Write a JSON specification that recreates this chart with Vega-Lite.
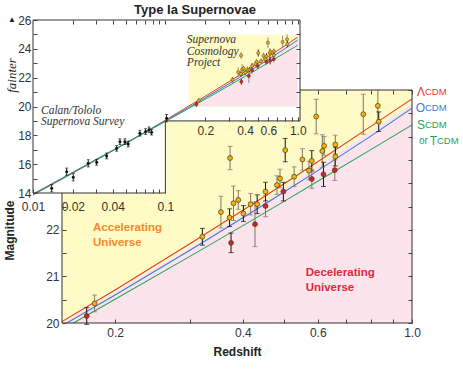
{
  "$schema": "https://vega.github.io/schema/vega-lite/v6.json",
  "width": 350,
  "height": 233,
  "autosize": {"type": "none"},
  "padding": {"left": 62, "top": 90, "right": 51, "bottom": 50},
  "title": {"text": "Type Ia Supernovae", "fontSize": 13, "font": "Liberation Sans", "fontWeight": "bold", "color": "#222", "anchor": "middle", "dx": -42, "offset": -3},
  "config": {
    "view": {"stroke": null, "fill": "#fde4ec"},
    "font": "Liberation Sans",
    "axis": {"domain": false, "grid": false, "labelFont": "Liberation Sans", "labelFontSize": 12, "labelColor": "#333", "tickColor": "#444", "tickSize": -4, "labelPadding": 8, "titleFont": "Liberation Sans", "labelOverlap": false, "labelFlush": false, "labelBound": false}
  },
  "datasets": {
    "models": [
      {"model": "ΛCDM", "z": 0.01, "m": 13.86}, {"model": "ΛCDM", "z": 0.02, "m": 15.38}, {"model": "ΛCDM", "z": 0.05, "m": 17.42}, {"model": "ΛCDM", "z": 0.1, "m": 19.05}, {"model": "ΛCDM", "z": 0.15, "m": 20.03}, {"model": "ΛCDM", "z": 0.2, "m": 20.71}, {"model": "ΛCDM", "z": 0.3, "m": 21.7}, {"model": "ΛCDM", "z": 0.4, "m": 22.42}, {"model": "ΛCDM", "z": 0.5, "m": 22.99}, {"model": "ΛCDM", "z": 0.6, "m": 23.46}, {"model": "ΛCDM", "z": 0.8, "m": 24.22}, {"model": "ΛCDM", "z": 1.0, "m": 24.81},
      {"model": "OCDM", "z": 0.01, "m": 13.93}, {"model": "OCDM", "z": 0.02, "m": 15.44}, {"model": "OCDM", "z": 0.05, "m": 17.46}, {"model": "OCDM", "z": 0.1, "m": 19.01}, {"model": "OCDM", "z": 0.15, "m": 19.94}, {"model": "OCDM", "z": 0.2, "m": 20.6}, {"model": "OCDM", "z": 0.3, "m": 21.56}, {"model": "OCDM", "z": 0.4, "m": 22.26}, {"model": "OCDM", "z": 0.5, "m": 22.81}, {"model": "OCDM", "z": 0.6, "m": 23.27}, {"model": "OCDM", "z": 0.8, "m": 24.01}, {"model": "OCDM", "z": 1.0, "m": 24.61},
      {"model": "SCDM", "z": 0.01, "m": 13.91}, {"model": "SCDM", "z": 0.02, "m": 15.41}, {"model": "SCDM", "z": 0.05, "m": 17.43}, {"model": "SCDM", "z": 0.1, "m": 18.96}, {"model": "SCDM", "z": 0.15, "m": 19.86}, {"model": "SCDM", "z": 0.2, "m": 20.51}, {"model": "SCDM", "z": 0.3, "m": 21.43}, {"model": "SCDM", "z": 0.4, "m": 22.09}, {"model": "SCDM", "z": 0.5, "m": 22.61}, {"model": "SCDM", "z": 0.6, "m": 23.04}, {"model": "SCDM", "z": 0.8, "m": 23.72}, {"model": "SCDM", "z": 1.0, "m": 24.25}
    ],
    "boundary": [
      {"z": 0.15, "m": 19.99}, {"z": 0.2, "m": 20.66}, {"z": 0.3, "m": 21.63}, {"z": 0.4, "m": 22.34}, {"z": 0.5, "m": 22.9}, {"z": 0.6, "m": 23.37}, {"z": 0.8, "m": 24.12}, {"z": 1.0, "m": 24.71}
    ],
    "sn": [
      {"z": 0.1715, "m": 20.15, "lo": 19.97, "hi": 20.33, "team": "HZT", "fit": "primary"},
      {"z": 0.179, "m": 20.42, "lo": 20.24, "hi": 20.6, "team": "SCP", "fit": "secondary"},
      {"z": 0.321, "m": 21.85, "lo": 21.67, "hi": 22.03, "team": "SCP", "fit": "primary"},
      {"z": 0.375, "m": 21.72, "lo": 21.51, "hi": 21.93, "team": "HZT", "fit": "primary"},
      {"z": 0.355, "m": 22.38, "lo": 22.04, "hi": 22.72, "team": "SCP", "fit": "secondary"},
      {"z": 0.372, "m": 22.26, "lo": 22.07, "hi": 22.45, "team": "SCP", "fit": "primary"},
      {"z": 0.38, "m": 22.57, "lo": 22.2, "hi": 22.94, "team": "SCP", "fit": "secondary"},
      {"z": 0.39, "m": 22.64, "lo": 22.44, "hi": 22.84, "team": "SCP", "fit": "secondary"},
      {"z": 0.401, "m": 22.35, "lo": 22.18, "hi": 22.52, "team": "SCP", "fit": "primary"},
      {"z": 0.417, "m": 22.55, "lo": 22.32, "hi": 22.78, "team": "SCP", "fit": "secondary"},
      {"z": 0.432, "m": 22.55, "lo": 22.35, "hi": 22.75, "team": "SCP", "fit": "primary"},
      {"z": 0.427, "m": 22.12, "lo": 21.64, "hi": 22.6, "team": "HZT", "fit": "secondary"},
      {"z": 0.452, "m": 22.51, "lo": 22.28, "hi": 22.74, "team": "HZT", "fit": "secondary"},
      {"z": 0.452, "m": 22.82, "lo": 22.62, "hi": 23.02, "team": "SCP", "fit": "primary"},
      {"z": 0.498, "m": 22.82, "lo": 22.62, "hi": 23.02, "team": "HZT", "fit": "primary"},
      {"z": 0.481, "m": 22.96, "lo": 22.76, "hi": 23.16, "team": "SCP", "fit": "secondary"},
      {"z": 0.503, "m": 23.71, "lo": 23.46, "hi": 23.96, "team": "SCP", "fit": "primary"},
      {"z": 0.489, "m": 23.1, "lo": 22.9, "hi": 23.3, "team": "SCP", "fit": "secondary"},
      {"z": 0.528, "m": 23.14, "lo": 22.93, "hi": 23.35, "team": "SCP", "fit": "secondary"},
      {"z": 0.552, "m": 23.51, "lo": 23.28, "hi": 23.74, "team": "SCP", "fit": "secondary"},
      {"z": 0.572, "m": 23.27, "lo": 23.07, "hi": 23.47, "team": "SCP", "fit": "secondary"},
      {"z": 0.581, "m": 23.48, "lo": 23.26, "hi": 23.7, "team": "SCP", "fit": "primary"},
      {"z": 0.581, "m": 23.09, "lo": 22.89, "hi": 23.29, "team": "HZT", "fit": "secondary"},
      {"z": 0.595, "m": 24.43, "lo": 24.06, "hi": 24.8, "team": "SCP", "fit": "secondary"},
      {"z": 0.615, "m": 23.69, "lo": 23.34, "hi": 24.04, "team": "SCP", "fit": "secondary"},
      {"z": 0.621, "m": 23.8, "lo": 23.6, "hi": 24.0, "team": "SCP", "fit": "secondary"},
      {"z": 0.619, "m": 23.19, "lo": 22.93, "hi": 23.45, "team": "HZT", "fit": "primary"},
      {"z": 0.66, "m": 23.83, "lo": 23.63, "hi": 24.03, "team": "SCP", "fit": "secondary"},
      {"z": 0.66, "m": 23.57, "lo": 23.37, "hi": 23.77, "team": "SCP", "fit": "primary"},
      {"z": 0.658, "m": 23.28, "lo": 23.06, "hi": 23.5, "team": "HZT", "fit": "secondary"},
      {"z": 0.768, "m": 24.48, "lo": 24.05, "hi": 24.91, "team": "SCP", "fit": "secondary"},
      {"z": 0.831, "m": 24.66, "lo": 24.31, "hi": 25.0, "team": "SCP", "fit": "secondary"},
      {"z": 0.835, "m": 24.32, "lo": 24.11, "hi": 24.53, "team": "SCP", "fit": "primary"},
      {"z": 0.373, "m": 23.54, "lo": 23.29, "hi": 23.79, "team": "SCP", "fit": "secondary"}
    ],
    "ct": [
      {"z": 0.01384, "m": 14.33, "lo": 14.08, "hi": 14.58},
      {"z": 0.01796, "m": 15.48, "lo": 15.23, "hi": 15.73},
      {"z": 0.02015, "m": 15.09, "lo": 14.84, "hi": 15.34},
      {"z": 0.02615, "m": 16.06, "lo": 15.81, "hi": 16.31},
      {"z": 0.03026, "m": 16.13, "lo": 15.93, "hi": 16.33},
      {"z": 0.036, "m": 16.57, "lo": 16.37, "hi": 16.77},
      {"z": 0.04282, "m": 17.1, "lo": 16.9, "hi": 17.3},
      {"z": 0.04535, "m": 17.56, "lo": 17.36, "hi": 17.76},
      {"z": 0.04947, "m": 17.56, "lo": 17.36, "hi": 17.76},
      {"z": 0.05239, "m": 17.4, "lo": 17.2, "hi": 17.6},
      {"z": 0.06421, "m": 18.15, "lo": 17.95, "hi": 18.35},
      {"z": 0.0709, "m": 18.26, "lo": 18.06, "hi": 18.46},
      {"z": 0.07529, "m": 18.38, "lo": 18.18, "hi": 18.58},
      {"z": 0.07866, "m": 18.22, "lo": 18.02, "hi": 18.42},
      {"z": 0.1021, "m": 19.19, "lo": 18.94, "hi": 19.44}
    ],
    "mainframe": [
      {"x1": 0.15, "x2": 0.15, "y1": 20, "y2": 25},
      {"x1": 1.0, "x2": 1.0, "y1": 20, "y2": 25},
      {"x1": 0.15, "x2": 1.0, "y1": 20, "y2": 20},
      {"x1": 0.15, "x2": 1.0, "y1": 25, "y2": 25}
    ],
    "insetbg": [
      {"x1": 0.01, "x2": 1.04, "y1": 19, "y2": 26},
      {"x1": 0.01, "x2": 0.1, "y1": 14, "y2": 19}
    ],
    "scpbox": [{"x1": 0.15, "x2": 1.0, "y1": 20, "y2": 25}],
    "insetframe": [
      {"i": 0, "z": 0.01, "m": 14}, {"i": 1, "z": 0.01, "m": 26}, {"i": 2, "z": 1.04, "m": 26}, {"i": 3, "z": 1.04, "m": 19}, {"i": 4, "z": 0.1, "m": 19}, {"i": 5, "z": 0.1, "m": 14}, {"i": 6, "z": 0.01, "m": 14}
    ],
    "notes": [
      {"text": "Accelerating", "z": 0.1775, "m": 22.04, "kind": "acc"},
      {"text": "Universe", "z": 0.1775, "m": 21.72, "kind": "acc"},
      {"text": "Decelerating", "z": 0.562, "m": 21.07, "kind": "dec"},
      {"text": "Universe", "z": 0.562, "m": 20.75, "kind": "dec"}
    ],
    "insetnotes": [
      {"text": "Supernova", "z": 0.1453, "m": 24.63},
      {"text": "Cosmology", "z": 0.1453, "m": 23.79},
      {"text": "Project", "z": 0.1453, "m": 23.03},
      {"text": "Calan/Tololo", "z": 0.01149, "m": 19.72},
      {"text": "Supernova Survey", "z": 0.01149, "m": 18.9}
    ],
    "leg": [
      {"model": "ΛCDM", "lead": "Λ", "z": 1.0, "m": 24.96},
      {"model": "OCDM", "lead": "O", "z": 1.0, "m": 24.61},
      {"model": "SCDM", "lead": "S", "z": 1.0, "m": 24.25}
    ],
    "leg2": [{"model": "SCDM", "lead": "T", "z": 1.0, "m": 23.91}],
    "arrow": [{"z": 0.01, "m": 26}]
  },
  "layer": [
    {
      "layer": [
        {
          "data": {"name": "boundary"},
          "mark": {"type": "area", "clip": true, "color": "#fffbc6"},
          "encoding": {
            "x": {"field": "z", "type": "quantitative", "scale": {"type": "log", "domain": [0.15, 1.0], "nice": false, "zero": false}, "axis": null},
            "y": {"field": "m", "type": "quantitative", "scale": {"domain": [20, 25], "nice": false, "zero": false}, "axis": null},
            "y2": {"datum": 25}
          }
        },
        {
          "data": {"name": "models"},
          "mark": {"type": "line", "clip": true, "strokeWidth": 1.1},
          "encoding": {
            "x": {"field": "z", "type": "quantitative", "scale": {"type": "log", "domain": [0.15, 1.0], "nice": false, "zero": false},
              "axis": {"orient": "bottom", "zindex": 1, "values": [0.2, 0.3, 0.4, 0.5, 0.6, 0.7, 0.8, 0.9, 1.0], "labelExpr": "indexof([0.2,0.4,0.6,1],datum.value)>=0 ? format(datum.value,'.1f') : ''", "title": "Redshift", "titleFontSize": 12, "titleFontWeight": "bold", "titleColor": "#222", "titleY": 28, "titleBaseline": "middle"}},
            "y": {"field": "m", "type": "quantitative", "scale": {"domain": [20, 25], "nice": false, "zero": false},
              "axis": {"orient": "left", "zindex": 1, "values": [20, 20.5, 21, 21.5, 22, 22.5], "labelExpr": "datum.value % 1 == 0 ? datum.label : ''", "labelPadding": 7, "title": "Magnitude", "titleFontSize": 12, "titleFontWeight": "bold", "titleColor": "#222", "titleX": -53, "titleY": 140, "titleBaseline": "middle", "titleAlign": "center", "titleAngle": -90}},
            "color": {"field": "model", "type": "nominal", "scale": {"domain": ["ΛCDM", "OCDM", "SCDM"], "range": ["#e8382e", "#3a7bd5", "#27a35a"]}, "legend": null}
          }
        },
        {
          "data": {"name": "mainframe"},
          "mark": {"type": "rule", "color": "#333", "strokeWidth": 1},
          "encoding": {
            "x": {"field": "x1", "type": "quantitative", "scale": {"type": "log", "domain": [0.15, 1.0], "nice": false, "zero": false},
              "axis": {"orient": "top", "zindex": 1, "values": [0.6, 0.7, 0.8, 0.9, 1.0], "labels": false, "title": null}},
            "x2": {"field": "x2"},
            "y": {"field": "y1", "type": "quantitative", "scale": {"domain": [20, 25], "nice": false, "zero": false},
              "axis": {"orient": "right", "zindex": 1, "values": [20, 20.5, 21, 21.5, 22, 22.5, 23, 23.5, 24, 24.5, 25], "labels": false, "title": null}},
            "y2": {"field": "y2"}
          }
        },
        {
          "data": {"name": "sn"},
          "mark": {"type": "rule", "strokeWidth": 1},
          "encoding": {
            "x": {"field": "z", "type": "quantitative", "scale": {"type": "log", "domain": [0.15, 1.0], "nice": false, "zero": false}, "axis": null},
            "y": {"field": "lo", "type": "quantitative", "scale": {"domain": [20, 25], "nice": false, "zero": false}, "axis": null},
            "y2": {"field": "hi"},
            "stroke": {"field": "fit", "type": "nominal", "scale": {"domain": ["primary", "secondary"], "range": ["#111", "#7d7568"]}, "legend": null}
          }
        },
        {
          "data": {"name": "sn"},
          "transform": [{"filter": "datum.fit == 'primary'"}, {"fold": ["lo", "hi"], "as": ["end", "v"]}],
          "mark": {"type": "tick", "orient": "horizontal", "size": 5, "thickness": 1, "color": "#111"},
          "encoding": {
            "x": {"field": "z", "type": "quantitative", "scale": {"type": "log", "domain": [0.15, 1.0], "nice": false, "zero": false}, "axis": null},
            "y": {"field": "v", "type": "quantitative", "scale": {"domain": [20, 25], "nice": false, "zero": false}, "axis": null}
          }
        },
        {
          "data": {"name": "sn"},
          "transform": [{"filter": "datum.fit == 'secondary'"}, {"fold": ["lo", "hi"], "as": ["end", "v"]}],
          "mark": {"type": "tick", "orient": "horizontal", "size": 5, "thickness": 1, "color": "#7d7568"},
          "encoding": {
            "x": {"field": "z", "type": "quantitative", "scale": {"type": "log", "domain": [0.15, 1.0], "nice": false, "zero": false}, "axis": null},
            "y": {"field": "v", "type": "quantitative", "scale": {"domain": [20, 25], "nice": false, "zero": false}, "axis": null}
          }
        },
        {
          "data": {"name": "sn"},
          "mark": {"type": "circle", "size": 24, "opacity": 1, "stroke": "#4a3a10", "strokeWidth": 0.7},
          "encoding": {
            "x": {"field": "z", "type": "quantitative", "scale": {"type": "log", "domain": [0.15, 1.0], "nice": false, "zero": false}, "axis": null},
            "y": {"field": "m", "type": "quantitative", "scale": {"domain": [20, 25], "nice": false, "zero": false}, "axis": null},
            "fill": {"field": "team", "type": "nominal", "scale": {"domain": ["SCP", "HZT"], "range": ["#f2b20f", "#d2202e"]}, "legend": null}
          }
        },
        {
          "data": {"name": "notes"},
          "transform": [{"filter": "datum.kind == 'acc'"}],
          "mark": {"type": "text", "align": "left", "baseline": "middle", "fontSize": 11.5, "fontWeight": "bold", "color": "#f58a2a"},
          "encoding": {
            "x": {"field": "z", "type": "quantitative", "scale": {"type": "log", "domain": [0.15, 1.0], "nice": false, "zero": false}, "axis": null},
            "y": {"field": "m", "type": "quantitative", "scale": {"domain": [20, 25], "nice": false, "zero": false}, "axis": null},
            "text": {"field": "text"}
          }
        },
        {
          "data": {"name": "notes"},
          "transform": [{"filter": "datum.kind == 'dec'"}],
          "mark": {"type": "text", "align": "left", "baseline": "middle", "fontSize": 11.5, "fontWeight": "bold", "color": "#e0283c"},
          "encoding": {
            "x": {"field": "z", "type": "quantitative", "scale": {"type": "log", "domain": [0.15, 1.0], "nice": false, "zero": false}, "axis": null},
            "y": {"field": "m", "type": "quantitative", "scale": {"domain": [20, 25], "nice": false, "zero": false}, "axis": null},
            "text": {"field": "text"}
          }
        },
        {
          "data": {"name": "leg"},
          "mark": {"type": "text", "align": "right", "baseline": "middle", "fontSize": 12, "dx": 13},
          "encoding": {
            "x": {"field": "z", "type": "quantitative", "scale": {"type": "log", "domain": [0.15, 1.0], "nice": false, "zero": false}, "axis": null},
            "y": {"field": "m", "type": "quantitative", "scale": {"domain": [20, 25], "nice": false, "zero": false}, "axis": null},
            "text": {"field": "lead"},
            "color": {"field": "model", "type": "nominal", "scale": {"domain": ["ΛCDM", "OCDM", "SCDM"], "range": ["#e8382e", "#3a7bd5", "#27a35a"]}, "legend": null}
          }
        },
        {
          "data": {"name": "leg"},
          "mark": {"type": "text", "align": "left", "baseline": "middle", "fontSize": 9.5, "dx": 13, "text": "CDM"},
          "encoding": {
            "x": {"field": "z", "type": "quantitative", "scale": {"type": "log", "domain": [0.15, 1.0], "nice": false, "zero": false}, "axis": null},
            "y": {"field": "m", "type": "quantitative", "scale": {"domain": [20, 25], "nice": false, "zero": false}, "axis": null},
            "color": {"field": "model", "type": "nominal", "scale": {"domain": ["ΛCDM", "OCDM", "SCDM"], "range": ["#e8382e", "#3a7bd5", "#27a35a"]}, "legend": null}
          }
        },
        {
          "data": {"name": "leg2"},
          "mark": {"type": "text", "align": "left", "baseline": "middle", "fontSize": 10, "dx": 7, "text": "or"},
          "encoding": {
            "x": {"field": "z", "type": "quantitative", "scale": {"type": "log", "domain": [0.15, 1.0], "nice": false, "zero": false}, "axis": null},
            "y": {"field": "m", "type": "quantitative", "scale": {"domain": [20, 25], "nice": false, "zero": false}, "axis": null},
            "color": {"field": "model", "type": "nominal", "scale": {"domain": ["ΛCDM", "OCDM", "SCDM"], "range": ["#e8382e", "#3a7bd5", "#27a35a"]}, "legend": null}
          }
        },
        {
          "data": {"name": "leg2"},
          "mark": {"type": "text", "align": "right", "baseline": "middle", "fontSize": 12, "dx": 25},
          "encoding": {
            "x": {"field": "z", "type": "quantitative", "scale": {"type": "log", "domain": [0.15, 1.0], "nice": false, "zero": false}, "axis": null},
            "y": {"field": "m", "type": "quantitative", "scale": {"domain": [20, 25], "nice": false, "zero": false}, "axis": null},
            "text": {"field": "lead"},
            "color": {"field": "model", "type": "nominal", "scale": {"domain": ["ΛCDM", "OCDM", "SCDM"], "range": ["#e8382e", "#3a7bd5", "#27a35a"]}, "legend": null}
          }
        },
        {
          "data": {"name": "leg2"},
          "mark": {"type": "text", "align": "left", "baseline": "middle", "fontSize": 9.5, "dx": 25, "text": "CDM"},
          "encoding": {
            "x": {"field": "z", "type": "quantitative", "scale": {"type": "log", "domain": [0.15, 1.0], "nice": false, "zero": false}, "axis": null},
            "y": {"field": "m", "type": "quantitative", "scale": {"domain": [20, 25], "nice": false, "zero": false}, "axis": null},
            "color": {"field": "model", "type": "nominal", "scale": {"domain": ["ΛCDM", "OCDM", "SCDM"], "range": ["#e8382e", "#3a7bd5", "#27a35a"]}, "legend": null}
          }
        }
      ],
      "resolve": {"axis": {"x": "independent", "y": "independent"}}
    },
    {
      "layer": [
        {
          "data": {"name": "insetbg"},
          "mark": {"type": "rect", "color": "white"},
          "encoding": {
            "x": {"field": "x1", "type": "quantitative", "scale": {"type": "log", "domain": [0.01, 1.04], "range": [-29, 238], "nice": false, "zero": false},
              "axis": {"orient": "bottom", "zindex": 2, "offset": -130, "labelPadding": 12, "values": [0.01, 0.02, 0.03, 0.04, 0.05, 0.06, 0.07, 0.08, 0.09, 0.1], "labelExpr": "indexof([0.01,0.02,0.04,0.1],datum.value)>=0 ? toString(datum.value) : ''", "title": null}},
            "x2": {"field": "x2"},
            "y": {"field": "y1", "type": "quantitative", "scale": {"domain": [14, 26], "range": [103, -70], "nice": false, "zero": false},
              "axis": {"orient": "left", "zindex": 2, "offset": 29, "values": [14, 15, 16, 17, 18, 19, 20, 21, 22, 23, 24, 25, 26], "labelExpr": "datum.value % 2 == 0 ? datum.label : ''", "labelPadding": 6, "title": "fainter", "titleFont": "Liberation Serif", "titleFontStyle": "italic", "titleFontWeight": "normal", "titleFontSize": 13, "titleColor": "#222", "titleX": -22, "titleY": -15, "titleBaseline": "middle", "titleAlign": "center", "titleAngle": -90}},
            "y2": {"field": "y2"}
          }
        },
        {
          "data": {"name": "scpbox"},
          "mark": {"type": "rect", "color": "#fffbc6"},
          "encoding": {
            "x": {"field": "x1", "type": "quantitative", "scale": {"type": "log", "domain": [0.01, 1.04], "range": [-29, 238], "nice": false, "zero": false},
              "axis": {"orient": "top", "zindex": 2, "offset": 70, "values": [0.02, 0.03, 0.04, 0.05, 0.06, 0.07, 0.08, 0.09, 0.1, 0.2, 0.3, 0.4, 0.5, 0.6, 0.7, 0.8, 0.9, 1.0], "labels": false, "title": null}},
            "x2": {"field": "x2"},
            "y": {"field": "y1", "type": "quantitative", "scale": {"domain": [14, 26], "range": [103, -70], "nice": false, "zero": false}, "axis": null},
            "y2": {"field": "y2"}
          }
        },
        {
          "data": {"name": "boundary"},
          "mark": {"type": "area", "color": "#fde4ec"},
          "encoding": {
            "x": {"field": "z", "type": "quantitative", "scale": {"type": "log", "domain": [0.01, 1.04], "range": [-29, 238], "nice": false, "zero": false}, "axis": null},
            "y": {"field": "m", "type": "quantitative", "scale": {"domain": [14, 26], "range": [103, -70], "nice": false, "zero": false}, "axis": null},
            "y2": {"datum": 20}
          }
        },
        {
          "data": {"name": "models"},
          "mark": {"type": "line", "strokeWidth": 1},
          "encoding": {
            "x": {"field": "z", "type": "quantitative", "scale": {"type": "log", "domain": [0.01, 1.04], "range": [-29, 238], "nice": false, "zero": false}, "axis": null},
            "y": {"field": "m", "type": "quantitative", "scale": {"domain": [14, 26], "range": [103, -70], "nice": false, "zero": false}, "axis": null},
            "color": {"field": "model", "type": "nominal", "scale": {"domain": ["ΛCDM", "OCDM", "SCDM"], "range": ["#e8382e", "#3a7bd5", "#27a35a"]}, "legend": null}
          }
        },
        {
          "data": {"name": "ct"},
          "mark": {"type": "rule", "color": "#111", "strokeWidth": 0.9},
          "encoding": {
            "x": {"field": "z", "type": "quantitative", "scale": {"type": "log", "domain": [0.01, 1.04], "range": [-29, 238], "nice": false, "zero": false}, "axis": null},
            "y": {"field": "lo", "type": "quantitative", "scale": {"domain": [14, 26], "range": [103, -70], "nice": false, "zero": false}, "axis": null},
            "y2": {"field": "hi"}
          }
        },
        {
          "data": {"name": "ct"},
          "transform": [{"fold": ["lo", "hi"], "as": ["end", "v"]}],
          "mark": {"type": "tick", "orient": "horizontal", "size": 3, "thickness": 0.9, "color": "#111"},
          "encoding": {
            "x": {"field": "z", "type": "quantitative", "scale": {"type": "log", "domain": [0.01, 1.04], "range": [-29, 238], "nice": false, "zero": false}, "axis": null},
            "y": {"field": "v", "type": "quantitative", "scale": {"domain": [14, 26], "range": [103, -70], "nice": false, "zero": false}, "axis": null}
          }
        },
        {
          "data": {"name": "ct"},
          "mark": {"type": "circle", "size": 9, "color": "#111", "opacity": 1},
          "encoding": {
            "x": {"field": "z", "type": "quantitative", "scale": {"type": "log", "domain": [0.01, 1.04], "range": [-29, 238], "nice": false, "zero": false}, "axis": null},
            "y": {"field": "m", "type": "quantitative", "scale": {"domain": [14, 26], "range": [103, -70], "nice": false, "zero": false}, "axis": null}
          }
        },
        {
          "data": {"name": "sn"},
          "mark": {"type": "rule", "strokeWidth": 0.8},
          "encoding": {
            "x": {"field": "z", "type": "quantitative", "scale": {"type": "log", "domain": [0.01, 1.04], "range": [-29, 238], "nice": false, "zero": false}, "axis": null},
            "y": {"field": "lo", "type": "quantitative", "scale": {"domain": [14, 26], "range": [103, -70], "nice": false, "zero": false}, "axis": null},
            "y2": {"field": "hi"},
            "stroke": {"field": "fit", "type": "nominal", "scale": {"domain": ["primary", "secondary"], "range": ["#111", "#7d7568"]}, "legend": null}
          }
        },
        {
          "data": {"name": "sn"},
          "mark": {"type": "circle", "size": 10, "opacity": 1, "stroke": "#4a3a10", "strokeWidth": 0.5},
          "encoding": {
            "x": {"field": "z", "type": "quantitative", "scale": {"type": "log", "domain": [0.01, 1.04], "range": [-29, 238], "nice": false, "zero": false}, "axis": null},
            "y": {"field": "m", "type": "quantitative", "scale": {"domain": [14, 26], "range": [103, -70], "nice": false, "zero": false}, "axis": null},
            "fill": {"field": "team", "type": "nominal", "scale": {"domain": ["SCP", "HZT"], "range": ["#f2b20f", "#d2202e"]}, "legend": null}
          }
        },
        {
          "data": {"name": "insetframe"},
          "mark": {"type": "line", "color": "#333", "strokeWidth": 1},
          "encoding": {
            "x": {"field": "z", "type": "quantitative", "scale": {"type": "log", "domain": [0.01, 1.04], "range": [-29, 238], "nice": false, "zero": false},
              "axis": {"orient": "bottom", "zindex": 2, "offset": -202, "values": [0.2, 0.3, 0.4, 0.5, 0.6, 0.7, 0.8, 0.9, 1.0], "labelExpr": "indexof([0.2,0.4,0.6,1],datum.value)>=0 ? format(datum.value,'.1f') : ''", "title": null}},
            "y": {"field": "m", "type": "quantitative", "scale": {"domain": [14, 26], "range": [103, -70], "nice": false, "zero": false},
              "axis": {"orient": "right", "zindex": 2, "offset": -112, "values": [20, 21, 22, 23, 24, 25], "labels": false, "title": null}},
            "order": {"field": "i", "type": "quantitative"}
          }
        },
        {
          "data": {"name": "insetnotes"},
          "mark": {"type": "text", "align": "left", "baseline": "middle", "font": "Liberation Serif", "fontStyle": "italic", "fontSize": 11.5, "color": "#333"},
          "encoding": {
            "x": {"field": "z", "type": "quantitative", "scale": {"type": "log", "domain": [0.01, 1.04], "range": [-29, 238], "nice": false, "zero": false}, "axis": null},
            "y": {"field": "m", "type": "quantitative", "scale": {"domain": [14, 26], "range": [103, -70], "nice": false, "zero": false}, "axis": null},
            "text": {"field": "text"}
          }
        },
        {
          "data": {"name": "arrow"},
          "mark": {"type": "text", "align": "center", "baseline": "middle", "fontSize": 8, "dx": -21, "color": "#222", "text": "▲"},
          "encoding": {
            "x": {"field": "z", "type": "quantitative", "scale": {"type": "log", "domain": [0.01, 1.04], "range": [-29, 238], "nice": false, "zero": false}, "axis": null},
            "y": {"field": "m", "type": "quantitative", "scale": {"domain": [14, 26], "range": [103, -70], "nice": false, "zero": false}, "axis": null}
          }
        }
      ],
      "resolve": {"axis": {"x": "independent", "y": "independent"}}
    }
  ],
  "resolve": {"scale": {"x": "independent", "y": "independent"}, "axis": {"x": "independent", "y": "independent"}}
}
